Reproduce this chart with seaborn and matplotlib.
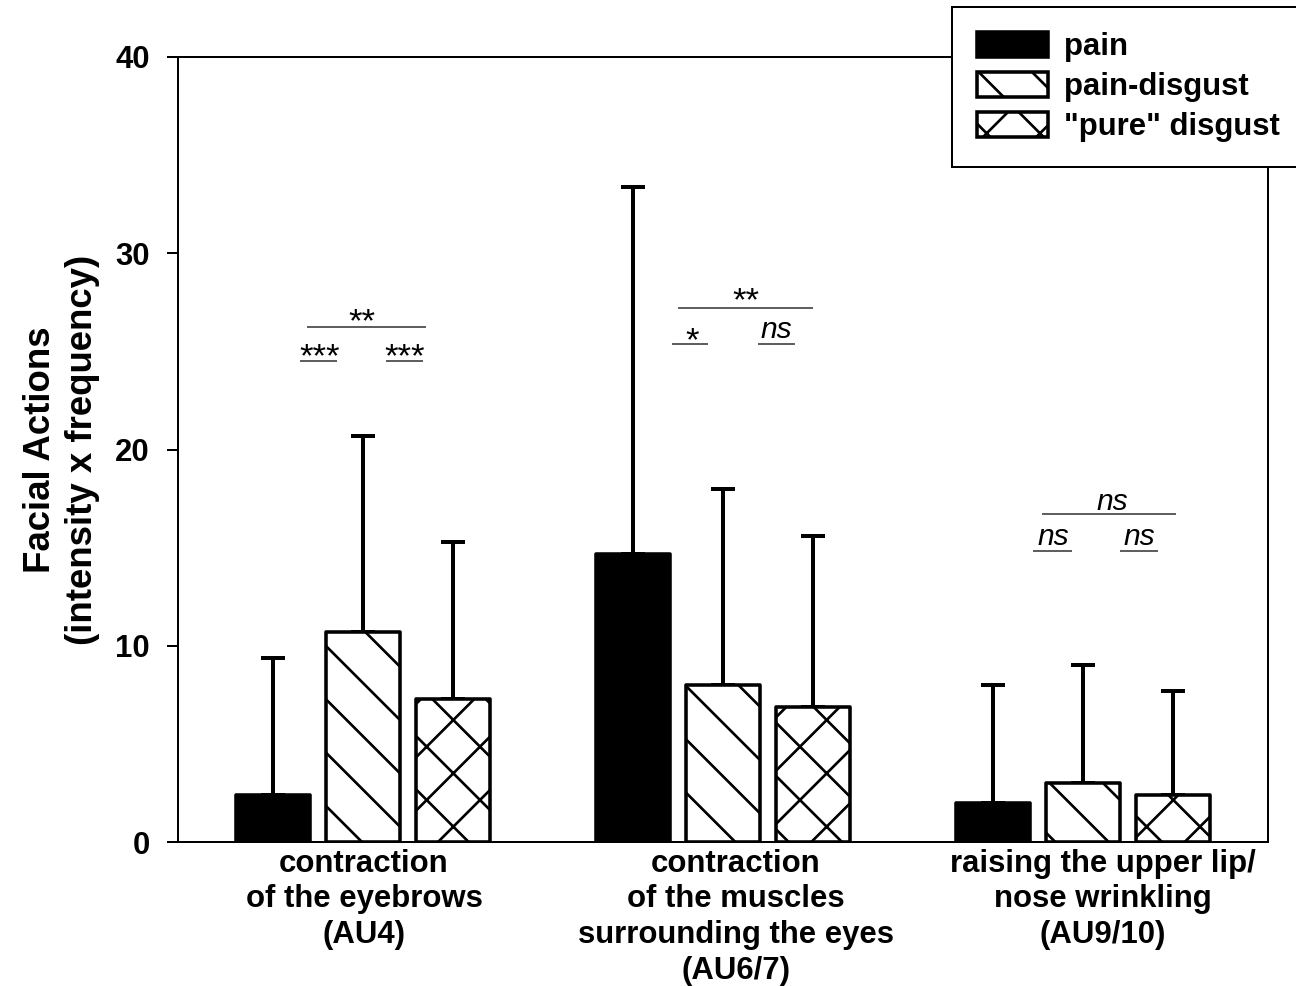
"""
Facial actions bar chart (pain / pain-disgust / pure disgust)
"""

import pandas as pd
import matplotlib.pyplot as plt
import matplotlib.patches as mpatches
import seaborn as sns

# ---- data ----
categories = [
    'contraction\nof the eyebrows\n(AU4)',
    'contraction\nof the muscles\nsurrounding the eyes\n(AU6/7)',
    'raising the upper lip/\nnose wrinkling\n(AU9/10)',
]
conditions = ['pain', 'pain-disgust', '"pure" disgust']
pain_mean = [2.4, 14.7, 2.0]
pain_disgust_mean = [10.7, 8.0, 3.0]
pure_disgust_mean = [7.3, 6.9, 2.4]
pain_sd = [7.0, 18.7, 6.0]
pain_disgust_sd = [10.0, 10.0, 6.0]
pure_disgust_sd = [8.0, 8.7, 5.3]
y_ticks = [0, 10, 20, 30, 40]

# significance marks: (group, label, line start, line end, line y, text x, text baseline y)
sig_marks = [
    (0, '**', -0.156, 0.175, 26.24, -0.003, 26.05),
    (0, '***', -0.175, -0.072, 24.51, -0.119, 24.22),
    (0, '***', 0.064, 0.167, 24.51, 0.117, 24.22),
    (1, '**', -0.125, 0.25, 27.21, 0.064, 27.12),
    (1, '*', -0.142, -0.042, 25.38, -0.086, 25.06),
    (1, 'ns', 0.097, 0.2, 25.38, 0.147, 25.68),
    (2, 'ns', -0.114, 0.258, 16.71, 0.081, 16.92),
    (2, 'ns', -0.139, -0.031, 14.83, -0.083, 15.13),
    (2, 'ns', 0.103, 0.208, 14.83, 0.156, 15.13),
]

means = [pain_mean, pain_disgust_mean, pure_disgust_mean]
sds = [pain_sd, pain_disgust_sd, pure_disgust_sd]
df = pd.DataFrame({
    'category': categories * 3,
    'condition': [c for c in conditions for _ in categories],
    'value': pain_mean + pain_disgust_mean + pure_disgust_mean,
})

sns.set_style('white')
plt.rcParams['font.family'] = ['Liberation Sans', 'DejaVu Sans']
plt.rcParams['hatch.linewidth'] = 1.2
plt.rcParams['hatch.color'] = 'black'
for key in ['text.color', 'axes.labelcolor', 'xtick.color', 'ytick.color']:
    plt.rcParams[key] = 'black'

fig = plt.figure(figsize=(8.1, 6.1625), dpi=160)
ax = fig.add_axes([0.1373, 0.146, 0.8411, 0.7962])

face_colors = ['black', 'white', 'white']
hatches = ['', '\\', 'x']

sns.barplot(
    data=df, x='category', y='value', hue='condition',
    order=categories, hue_order=conditions,
    palette=face_colors, saturation=1, errorbar=None,
    width=0.75, gap=0.17, edgecolor='black', linewidth=1.6,
    legend=False, ax=ax
)

# hatch + upper error bars
for cont, hatch, sd in zip(ax.containers, hatches, sds):
    for bar, err in zip(cont, sd):
        bar.set_hatch(hatch)
        bar.set_joinstyle('round')
        x = bar.get_x() + bar.get_width() / 2
        h = bar.get_height()
        ax.errorbar(x, h, yerr=[[0], [err]], fmt='none', ecolor='black',
                    elinewidth=1.8, capsize=5.6, capthick=1.8, zorder=0.5)

# significance lines and labels
for grp, label, x0, x1, yl, xt, yt in sig_marks:
    ax.plot([grp + x0, grp + x1], [yl, yl], color='#333333', lw=0.7,
            solid_capstyle='butt')
    if '*' in label:
        ax.text(grp + xt, yt, label, ha='center', va='baseline', fontsize=15.5)
    else:
        ax.text(grp + xt, yt, label, ha='center', va='baseline',
                fontsize=13.5, style='italic')

ax.set_xlim(-0.514, 2.514)
ax.set_ylim(0, 40)
ax.set_yticks(y_ticks)
ax.set_yticklabels([str(t) for t in y_ticks], fontsize=14, fontweight='bold')
ax.set_xticks([0.003, 1.036, 2.056])
ax.set_xticklabels(categories, fontsize=14, fontweight='bold', linespacing=1.25)
ax.tick_params(axis='x', length=0, pad=3)
ax.tick_params(axis='y', length=5, width=0.9, pad=7.6, direction='out',
               left=True, color='black')
ax.set_xlabel('')
ax.set_ylabel('Facial Actions\n(intensity x frequency)', fontsize=16.5,
              fontweight='bold', labelpad=7, linespacing=1.25)

for side in ['left', 'right', 'top', 'bottom']:
    ax.spines[side].set_visible(True)
    ax.spines[side].set_color('black')
    ax.spines[side].set_linewidth(0.9)

handles = [mpatches.Patch(facecolor=fc, edgecolor='black', hatch=ht,
                          linewidth=1.6, joinstyle='round', label=lab)
           for fc, ht, lab in zip(face_colors, hatches, conditions)]
leg = ax.legend(handles=handles, loc='upper left',
                bbox_to_anchor=(952 / 1296, 1 - 7 / 986),
                bbox_transform=fig.transFigure, borderaxespad=0,
                prop={'size': 14, 'weight': 'bold'}, frameon=True,
                fancybox=False, framealpha=1, borderpad=0.8,
                labelspacing=0.32, handlelength=2.3, handleheight=0.85,
                handletextpad=0.5)
leg.get_frame().set_edgecolor('black')
leg.get_frame().set_linewidth(0.9)
leg.set_zorder(5)

fig.savefig('out.png', dpi=160)
